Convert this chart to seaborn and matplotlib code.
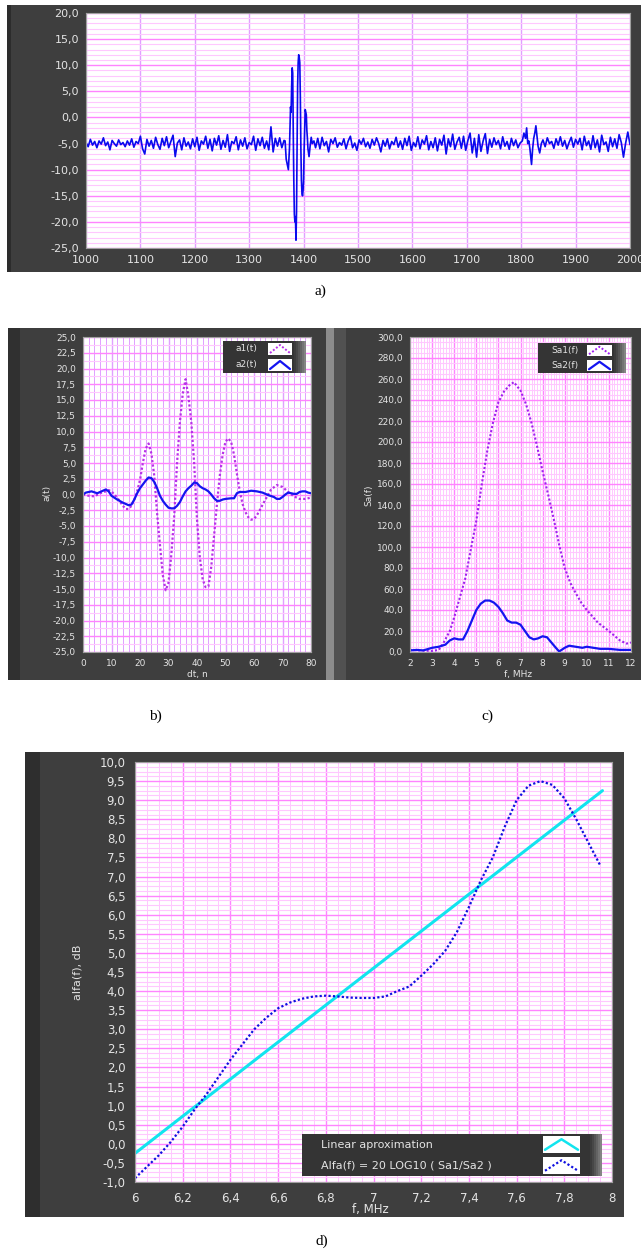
import numpy as np
import matplotlib.pyplot as plt
import seaborn as sns
from matplotlib.ticker import MultipleLocator, FuncFormatter
from matplotlib.patches import Rectangle
from matplotlib.lines import Line2D

# ---------------- data ----------------
# a) raw echo signal, samples 1000..2000
seg1_vals = [-4.8, -5.6, -4.2, -5.3, -4.6, -5.8, -4.5, -5.1, -3.9, -5.4,
             -4.7, -6.2, -4.4, -5.0, -5.5, -4.3, -5.2, -4.8, -5.6, -4.5,
             -5.3, -4.1, -5.7, -4.6, -5.0, -3.6, -6.0, -7.0, -4.2, -5.5,
             -4.4, -5.9, -3.8, -5.2, -6.1, -4.0, -5.4, -3.7, -5.8, -4.6,
             -3.4, -7.5, -4.9, -4.3, -6.2, -3.9, -5.5, -4.7, -6.0, -4.1,
             -5.6, -3.8, -6.3, -4.5, -5.1, -3.6, -5.9, -4.2, -6.4, -4.0,
             -5.3, -3.5, -6.1, -4.4, -5.7, -3.3, -6.5, -4.6, -5.0, -3.7,
             -6.2, -4.3, -5.5, -3.9, -6.0, -4.8, -5.2, -3.6, -6.3, -4.1,
             -5.4, -3.8, -5.9, -4.5, -6.2, -1.8, -6.6, -4.0, -5.5, -3.9,
             -5.8, -4.4]
pulse_x = [1366, 1368, 1370, 1372, 1374, 1376, 1377, 1378, 1379, 1380,
           1381, 1382, 1383, 1384, 1385, 1386, 1387, 1388, 1389, 1390,
           1391, 1392, 1393, 1394, 1395, 1396, 1397, 1398, 1399, 1400,
           1401, 1402, 1403, 1404, 1405, 1406, 1407, 1408,
           1410, 1412, 1414, 1416, 1419, 1422]
pulse_vals = [-4.5, -8.0, -9.0, -10.0, -6.0, 2.0, 1.0, 6.0, 9.5, 8.5,
              -3.0, -12.0, -18.5, -20.0, -19.0, -23.5, -18.0, -5.0, 6.0, 10.5,
              12.0, 11.5, 10.5, 4.0, -6.0, -12.0, -14.5, -15.0, -14.0, -12.0,
              -6.0, -2.0, 1.5, 1.0, 0.5, -2.5, -4.0, -6.0,
              -7.5, -5.5, -3.8, -5.0, -4.5, -5.8]
seg2_vals = [-4.0, -6.0, -3.8, -5.4, -4.6, -6.6, -4.2, -5.0, -3.9, -5.7,
             -4.8, -5.3, -4.1, -6.0, -4.5, -3.6, -5.8, -4.9, -6.3, -4.3,
             -5.1, -4.0, -5.6, -4.7, -5.9, -4.2, -5.3, -3.9, -5.0, -6.6,
             -4.4, -5.5, -4.1, -6.0, -4.6, -5.2, -3.8, -5.7, -4.5, -6.1,
             -4.0, -5.4, -3.6, -6.3, -4.8, -5.6, -3.7, -6.0, -4.3, -5.1,
             -3.5, -6.2, -4.6, -5.8, -3.9, -6.4, -4.2, -5.3, -3.4, -7.0,
             -4.1, -5.6, -3.2, -6.1, -4.7, -3.8, -5.9, -3.6, -6.3, -4.4,
             -3.0, -6.8, -4.0, -7.6, -3.3, -6.5, -4.5, -3.1, -6.9, -4.2,
             -5.7, -3.9, -5.2, -4.4, -6.0, -3.7, -5.5, -4.6, -6.1, -4.0,
             -5.4, -4.3, -5.8, -4.9]
bump_x = [1802, 1805, 1808, 1810, 1812, 1814, 1816, 1818, 1819, 1821,
          1823, 1825, 1827, 1829, 1831, 1834, 1837]
bump_vals = [-4.5, -3.0, -4.0, -2.0, -5.0, -4.5, -6.0, -8.0, -9.0, -6.0,
             -4.0, -3.0, -1.6, -3.5, -5.5, -6.8, -5.0]
seg3_vals = [-4.3, -5.6, -3.9, -5.0, -4.6, -5.9, -4.1, -5.3, -3.7, -5.5,
             -4.4, -6.0, -4.8, -3.8, -5.7, -4.2, -5.1, -4.0, -6.2, -3.6,
             -5.4, -4.5, -6.1, -3.5, -5.8, -4.3, -6.6, -3.4, -5.2, -4.7,
             -6.5, -3.8, -5.6, -4.1, -5.9, -3.3, -4.8, -7.6, -4.9, -2.8,
             -5.2]

# b) windowed pulses a1(t), a2(t)
t1 = [0, 2, 4, 6, 8, 9, 10, 12, 14, 15, 16, 17, 18, 19, 20, 21, 22, 23, 24, 25,
      26, 27, 28, 29, 30, 31, 32, 33, 34, 35, 36, 37, 38, 39, 40, 41, 42, 43, 44,
      45, 46, 47, 48, 49, 50, 51, 52, 53, 54, 55, 56, 57, 58, 59, 60, 61, 62,
      64, 66, 68, 70, 72, 74, 76, 78, 80]
a1 = [0.0, -0.2, -0.3, 0.2, 0.5, 0.7, 0.5, -0.5, -1.8, -2.3, -2.3, -1.8, -0.8,
      0.5, 2.3, 5.0, 7.3, 8.1, 6.5, 3.0, -3.0, -8.0, -12.8, -15.2, -14.0, -9.5,
      -3.5, 5.0, 11.5, 16.0, 18.3, 15.5, 11.5, 5.0, -4.0, -10.0, -13.5, -14.7,
      -14.6, -11.5, -6.5, -1.5, 3.0, 6.3, 8.4, 8.9, 8.3, 6.3, 3.3, 0.5, -1.5,
      -2.8, -3.6, -4.0, -3.9, -3.3, -2.5, -0.8, 0.8, 1.5, 1.2, 0.4, -0.3, -0.7,
      -0.7, -0.5]
t2 = [0, 1, 3, 5, 7, 8, 9, 10, 12, 14, 16, 17, 18, 19, 20, 22, 23, 24, 25, 26,
      27, 28, 29, 30, 31, 32, 33, 34, 35, 36, 37, 38, 39, 40, 41, 42, 43, 44, 45,
      46, 47, 48, 49, 50, 52, 53, 54, 55, 57, 59, 61, 63, 65, 67, 68, 69, 70, 71,
      72, 74, 75, 76, 77, 78, 79, 80]
a2 = [0.0, 0.3, 0.5, 0.2, 0.6, 0.8, 0.5, -0.2, -0.8, -1.3, -1.7, -1.6, -0.8,
      0.2, 1.0, 2.2, 2.7, 2.6, 2.0, 1.0, -0.2, -1.0, -1.6, -2.1, -2.2, -2.2,
      -1.8, -1.2, -0.3, 0.5, 1.0, 1.4, 1.9, 1.8, 1.3, 1.0, 0.8, 0.5, 0.0, -0.6,
      -1.0, -1.0, -0.8, -0.7, -0.6, -0.6, 0.2, 0.4, 0.4, 0.6, 0.5, 0.3, -0.1,
      -0.4, -0.7, -0.7, -0.4, 0.0, 0.3, 0.1, 0.1, 0.4, 0.5, 0.5, 0.3, 0.2]

# c) spectra Sa1(f), Sa2(f)
f1 = [2.0, 2.5, 3.0, 3.3, 3.5, 3.8, 4.0, 4.5, 5.0, 5.25, 5.5, 5.75, 6.0, 6.25,
      6.5, 6.7, 7.0, 7.25, 7.5, 7.75, 8.0, 8.25, 8.5, 8.75, 9.0, 9.25, 9.5,
      9.75, 10.0, 10.5, 11.0, 11.5, 11.8, 12.0]
sa1 = [2, 1.5, 1, 2, 8, 20, 33, 70, 125, 160, 192, 218, 238, 248, 254, 257, 249,
       236, 218, 196, 172, 150, 127, 102, 80, 66, 56, 47, 40, 28, 20, 11, 8, 9]
f2 = [2.0, 2.3, 2.6, 3.0, 3.3, 3.6, 3.8, 4.0, 4.2, 4.4, 4.6, 4.8, 5.0, 5.2, 5.4,
      5.6, 5.8, 6.0, 6.2, 6.4, 6.6, 6.8, 7.0, 7.2, 7.4, 7.6, 7.8, 8.0, 8.2, 8.4,
      8.6, 8.75, 9.0, 9.2, 9.5, 9.8, 10.0, 10.3, 10.6, 11.0, 11.5, 12.0]
sa2 = [1.5, 2, 1.5, 4, 5, 7, 11, 13, 12, 12, 20, 30, 40, 46, 49, 49, 47, 43, 37,
       30, 28, 28, 26, 20, 14, 12, 13, 15, 14, 9, 4, 0.5, 4, 6, 5, 4, 5, 4, 3,
       3, 2, 2]

# d) attenuation alfa(f) and its linear fit
fd = [6.00, 6.05, 6.10, 6.15, 6.20, 6.25, 6.30, 6.35, 6.40, 6.45,
      6.50, 6.55, 6.60, 6.65, 6.70, 6.75, 6.80, 6.85, 6.90, 6.95,
      7.00, 7.05, 7.10, 7.15, 7.20, 7.25, 7.30, 7.35, 7.40, 7.45,
      7.50, 7.55, 7.60, 7.65, 7.70, 7.75, 7.80, 7.85, 7.90, 7.95]
alfa = [-0.9, -0.6, -0.3, 0.05, 0.45, 0.9, 1.3, 1.75, 2.2, 2.6,
        3.0, 3.3, 3.55, 3.7, 3.8, 3.86, 3.88, 3.86, 3.83, 3.82,
        3.82, 3.86, 4.0, 4.12, 4.4, 4.7, 5.05, 5.55, 6.2, 6.9,
        7.5, 8.3, 9.0, 9.38, 9.5, 9.4, 9.05, 8.5, 7.9, 7.3]
lin_f = [6.0, 6.5, 7.0, 7.5, 7.96]
lin_v = [-0.25, 2.18, 4.6, 7.02, 9.25]

# ---------------- style ----------------
sns.set_style("white")
plt.rcParams['font.family'] = ['DejaVu Sans']

W, H = 641, 1256
DARK = '#3e3e3e'
TXT = '#e4e4e4'
NAVY = '#10106a'
MAJ_H = '#ff84ff'
MAJ_V = '#e0a0ff'
MINOR = '#ffc8ff'

fig = plt.figure(figsize=(W / 100, H / 100), dpi=100)


def fx(x):
    return x / W


def fy(y):
    return 1 - y / H


def box(x0, y0, x1, y1, color, z=0):
    fig.add_artist(Rectangle((fx(x0), fy(y1)), (x1 - x0) / W, (y1 - y0) / H,
                             transform=fig.transFigure, color=color, lw=0, zorder=z))


def axes_px(x0, y0, x1, y1):
    return fig.add_axes([fx(x0), fy(y1), (x1 - x0) / W, (y1 - y0) / H])


def comma(fmt):
    return FuncFormatter(lambda v, p: (fmt % v).replace('.', ','))


def style(ax, xmaj, xmin, ymaj, ymin, xfmt, fs, tickcol, ticklen, vmaj=MAJ_V):
    ax.set_facecolor('white')
    ax.xaxis.set_major_locator(MultipleLocator(xmaj))
    ax.yaxis.set_major_locator(MultipleLocator(ymaj))
    if xmin:
        ax.xaxis.set_minor_locator(MultipleLocator(xmin))
        ax.xaxis.grid(True, which='minor', color=MINOR if vmaj != MAJ_V else MAJ_V,
                      lw=0.7)
    ax.yaxis.set_minor_locator(MultipleLocator(ymin))
    ax.yaxis.grid(True, which='minor', color=MINOR, lw=0.8)
    ax.yaxis.grid(True, which='major', color=MAJ_H, lw=1.0)
    ax.xaxis.grid(True, which='major', color=vmaj, lw=1.0)
    ax.set_axisbelow(True)
    ax.xaxis.set_major_formatter(comma(xfmt))
    ax.yaxis.set_major_formatter(comma('%.1f'))
    ax.tick_params(which='minor', length=0)
    ax.tick_params(which='major', length=ticklen, width=1.2, color=tickcol,
                   labelcolor=TXT, labelsize=fs, pad=2)
    for s in ax.spines.values():
        s.set_color('#a0a0a0')
        s.set_linewidth(0.8)
    ax.set_xlabel('')
    ax.set_ylabel('')


def legend_px(x0, y0, x1, y1, text_x, sw0, sw1, rows, fs):
    box(x0, y0, x1, y1, '#343434', 3)
    grad = ['#3c3c3c', '#474747', '#555555', '#646464', '#747474', '#858585']
    for i, c in enumerate(grad):
        box(x1 - 12 + 2 * i, y0, x1 - 10 + 2 * i, y1, c, 3)
    n = len(rows)
    step = (y1 - y0) / n
    for i, (label, color, ls, lw) in enumerate(rows):
        cy = y0 + step * (i + 0.5)
        fig.text(fx(text_x), fy(cy), label, color=TXT, fontsize=fs,
                 ha='left', va='center', zorder=5)
        box(sw0, cy - step / 2 + 2, sw1, cy + step / 2 - 2, 'white', 4)
        mx = (sw0 + sw1) / 2
        fig.add_artist(Line2D([fx(sw0 + 2), fx(mx), fx(sw1 - 2)],
                              [fy(cy + step / 4), fy(cy - step / 4), fy(cy + step / 4)],
                              transform=fig.transFigure, color=color, ls=ls, lw=lw,
                              zorder=5))


# ---------------- a) ----------------
sig_x = np.concatenate([np.arange(1000, 1365, 4), pulse_x, np.arange(1426, 1799, 4),
                        bump_x, np.arange(1840, 2001, 4)])
sig_y = np.concatenate([seg1_vals, pulse_vals, seg2_vals, bump_vals, seg3_vals])

box(7, 5, 641, 272, DARK)
box(7, 5, 11, 272, '#2c2c2c')
ax_a = axes_px(86, 13, 630, 248)
sns.lineplot(x=sig_x, y=sig_y, ax=ax_a, color='#0a0aee', lw=1.2, sort=False)
ax_a.set_xlim(1000, 2000)
ax_a.set_ylim(-25, 20)
style(ax_a, 100, None, 5, 1, '%d', 8, '#c8c8c8', 3)

# ---------------- b) ----------------
box(8, 328, 326, 680, DARK)
box(8, 328, 20, 680, '#303030')
ax_b = axes_px(83, 337, 311, 652)
sns.lineplot(x=t1, y=a1, ax=ax_b, color='#b830e8', lw=1.6, linestyle=(0, (1, 1)), sort=False)
sns.lineplot(x=t2, y=a2, ax=ax_b, color='#1414f0', lw=1.6, sort=False)
ax_b.set_xlim(0, 80)
ax_b.set_ylim(-25, 25)
style(ax_b, 10, 2, 2.5, 1.25, '%d', 6.5, NAVY, 3)
fig.text(fx(47), fy(493), 'a(t)', rotation=90, color=TXT, fontsize=6.5, ha='center', va='center')
fig.text(fx(197), fy(674), 'dt, n', color=TXT, fontsize=6.5, ha='center', va='center')
legend_px(223, 341, 306, 373, 236, 268, 292,
          [('a1(t)', '#b830e8', (0, (1, 1)), 1.4), ('a2(t)', '#1414f0', '-', 1.6)], 6.5)

# ---------------- c) ----------------
box(326, 328, 641, 680, DARK)
box(326, 328, 334, 680, '#8c8c8c')
box(334, 328, 346, 680, '#515151')
ax_c = axes_px(410, 337, 631, 652)
sns.lineplot(x=f1, y=sa1, ax=ax_c, color='#a020f0', lw=1.5, linestyle=(0, (1, 1)), sort=False)
sns.lineplot(x=f2, y=sa2, ax=ax_c, color='#1414f0', lw=1.6, sort=False)
ax_c.set_xlim(2, 12)
ax_c.set_ylim(0, 300)
style(ax_c, 1, 0.125, 20, 5, '%d', 6.5, NAVY, 3, vmaj=MAJ_H)
fig.text(fx(369), fy(495), 'Sa(f)', rotation=90, color=TXT, fontsize=6.5, ha='center', va='center')
fig.text(fx(518), fy(674), 'f, MHz', color=TXT, fontsize=6.5, ha='center', va='center')
legend_px(538, 343, 626, 373, 551, 587, 612,
          [('Sa1(f)', '#a020f0', (0, (1, 1)), 1.4), ('Sa2(f)', '#1414f0', '-', 1.6)], 6.5)

# ---------------- d) ----------------
box(25, 752, 624, 1217, DARK)
box(25, 752, 40, 1217, '#2e2e2e')
ax_d = axes_px(135, 762, 612, 1182)
sns.lineplot(x=lin_f, y=lin_v, ax=ax_d, color='#12e4ee', lw=2.2, sort=False)
sns.lineplot(x=fd, y=alfa, ax=ax_d, color='#1010e0', lw=1.6, linestyle=(0, (1, 1)), sort=False)
ax_d.set_xlim(6, 8)
ax_d.set_ylim(-1, 10)
style(ax_d, 0.2, 0.05, 0.5, 0.125, '%g', 8.5, NAVY, 5, vmaj=MAJ_H)
fig.text(fx(78), fy(972), 'alfa(f), dB', rotation=90, color=TXT, fontsize=8, ha='center', va='center')
fig.text(fx(370), fy(1210), 'f, MHz', color=TXT, fontsize=8.5, ha='center', va='center')
legend_px(302, 1134, 602, 1176, 321, 543, 580,
          [('Linear aproximation', '#12e4ee', '-', 1.8),
           ('Alfa(f) = 20 LOG10 ( Sa1/Sa2 )', '#1010e0', (0, (1, 1)), 1.6)], 8)

# panel captions
for lbl, x, y in [('a)', 320, 291), ('b)', 155, 716), ('c)', 487, 716), ('d)', 322, 1241)]:
    fig.text(fx(x), fy(y), lbl, fontsize=11, family='Liberation Serif',
             ha='center', va='center', color='black')

fig.savefig('out.png', dpi=100, facecolor='white')
